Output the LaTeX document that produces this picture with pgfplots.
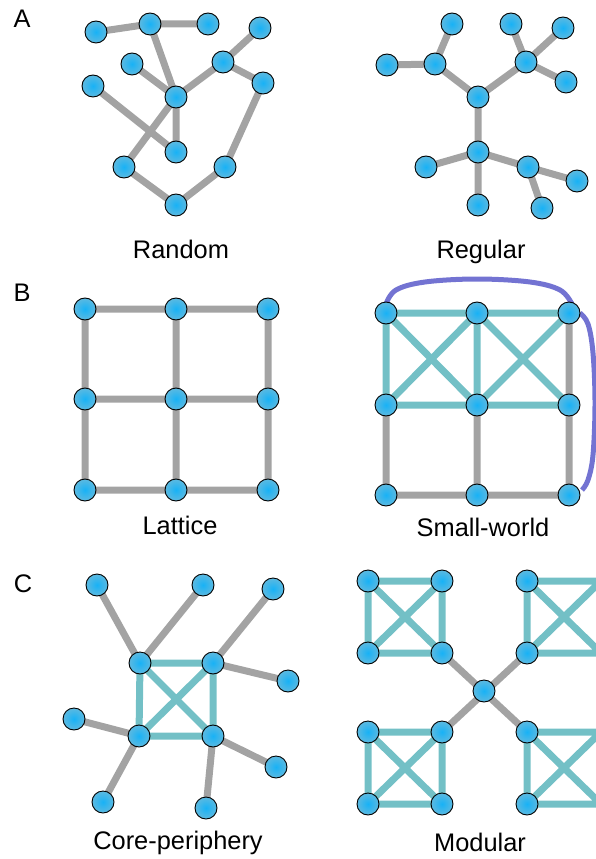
\documentclass[border=0pt]{standalone}
\usepackage{fontspec}
\setmainfont{Liberation Sans}
\usepackage{pgfplots}
\pgfplotsset{compat=1.18}
\usepackage{pgfplotstable}

\definecolor{edgegray}{HTML}{A3A3A3}
\definecolor{edgeteal}{HTML}{73C0C6}
\definecolor{edgeblue}{HTML}{7373D2}
\definecolor{nodein}{HTML}{18B2F6}
\definecolor{nodeout}{HTML}{5CB9E0}

% shaded node mark with black rim
\pgfdeclareradialshading{nodeshade}{\pgfpoint{0bp}{0bp}}{%
  color(0bp)=(nodein); color(25bp)=(nodeout); color(50bp)=(nodeout)}
\pgfdeclareplotmark{node}{%
  \pgfpathcircle{\pgfpointorigin}{\pgfplotmarksize}%
  \pgfshadepath{nodeshade}{0}%
  \pgfusepath{stroke}%
}

\newcommand\lab{\fontsize{25.5}{30}\selectfont}

% ---- node positions (pixels, y downwards)
\pgfplotstableread{
x y
96 32
150 24
208 24
260 28
132 64
223 62
93 86
263 83
176 97
176 152
124 167
225 167
176 205
}\randomnodes

\pgfplotstableread{
x y
452 24
511 24
563 28
387 65
435 64
526 62
566 82
478 97
478 152
426 167
528 167
577 181
478 205
542 208
}\regularnodes

\pgfplotstableread{
x y
85 309
176 309
268 309
85 399
176 399
268 399
85 490
176 490
268 490
}\latticenodes

\pgfplotstableread{
x y
386 313
477 313
569 313
386 405
477 405
569 405
386 495
477 495
569 495
}\swnodes

\pgfplotstableread{
x y
140 663
213 663
139 736
213 736
97 585
203 585
273 589
288 681
74 719
103 802
206 808
276 767
}\cpnodes

\pgfplotstableread{
x y
368 581
442 581
368 653
442 653
527 581
601 581
527 653
601 653
368 732
442 732
368 804
442 804
527 732
601 732
527 804
601 804
484 691
}\modnodes

\begin{document}
\begin{tikzpicture}
\begin{axis}[
    scale only axis,
    width=596bp, height=859bp,
    xmin=0, xmax=596, ymin=0, ymax=859,
    y dir=reverse,
    hide axis,
    clip=true,
    clip marker paths=true,
    unbounded coords=jump,
    every axis plot/.append style={line join=round},
]
% ---- gray edges
\addplot[edgegray, line width=7bp, no marks] coordinates {
  (96,32)(150,24)(208,24) (nan,nan)
  (150,24)(176,97)(176,152) (nan,nan)
  (132,64)(176,97)(223,62)(260,28) (nan,nan)
  (223,62)(263,83)(225,167)(176,205)(124,167)(176,97) (nan,nan)
  (93,86)(176,152) (nan,nan)
  (452,24)(435,64)(387,65) (nan,nan)
  (435,64)(478,97)(526,62)(511,24) (nan,nan)
  (526,62)(563,28) (nan,nan)
  (526,62)(566,82) (nan,nan)
  (478,97)(478,205) (nan,nan)
  (426,167)(478,152)(528,167)(577,181) (nan,nan)
  (528,167)(542,208) (nan,nan)
  (85,309)(268,309) (nan,nan)
  (85,399)(268,399) (nan,nan)
  (85,490)(268,490) (nan,nan)
  (85,309)(85,490) (nan,nan)
  (176,309)(176,490) (nan,nan)
  (268,309)(268,490) (nan,nan)
  (386,405)(386,495)(569,495)(569,313) (nan,nan)
  (477,405)(477,495) (nan,nan)
  (97,585)(140,663)(203,585) (nan,nan)
  (273,589)(213,663)(288,681) (nan,nan)
  (74,719)(139,736)(103,802) (nan,nan)
  (206,808)(213,736)(276,767) (nan,nan)
  (442,653)(527,732) (nan,nan)
  (527,653)(442,732)
};
% ---- teal edges
\addplot[edgeteal, line width=7bp, no marks] coordinates {
  (386,313)(569,313) (nan,nan)
  (386,405)(569,405) (nan,nan)
  (386,313)(386,405) (nan,nan)
  (477,313)(477,405) (nan,nan)
  (386,313)(477,405)(569,313) (nan,nan)
  (386,405)(477,313)(569,405) (nan,nan)
  (140,663)(213,663)(213,736)(139,736)(140,663)(213,736) (nan,nan)
  (213,663)(139,736) (nan,nan)
  (368,581)(442,581)(442,653)(368,653)(368,581)(442,653) (nan,nan)
  (442,581)(368,653) (nan,nan)
  (527,581)(601,581)(601,653)(527,653)(527,581)(601,653) (nan,nan)
  (601,581)(527,653) (nan,nan)
  (368,732)(442,732)(442,804)(368,804)(368,732)(442,804) (nan,nan)
  (442,732)(368,804) (nan,nan)
  (527,732)(601,732)(601,804)(527,804)(527,732)(601,804) (nan,nan)
  (601,732)(527,804)
};
% ---- long-range shortcuts of the small-world graph
\addplot[edgeblue, line width=5bp, no marks, smooth, tension=0.6] coordinates {
  (386,304)(396,290)(425,282)(477,279)(530,282)(560,290)(572,304)
};
\addplot[edgeblue, line width=5bp, no marks, smooth, tension=0.6] coordinates {
  (580,313)(588,324)(593,353)(595,403)(593,455)(588,480)(582,490)
};
% ---- nodes
\pgfplotsset{nodestyle/.style={only marks, mark=node, mark size=11bp,
    mark options={draw=black, line width=0.9bp, solid}}}
\addplot[nodestyle] table {\randomnodes};
\addplot[nodestyle] table {\regularnodes};
\addplot[nodestyle] table {\latticenodes};
\addplot[nodestyle] table {\swnodes};
\addplot[nodestyle] table {\cpnodes};
\addplot[nodestyle] table {\modnodes};
% ---- labels
\node[anchor=base, font=\lab] at (axis cs:22,28) {A};
\node[anchor=base, font=\lab] at (axis cs:22,301) {B};
\node[anchor=base, font=\lab] at (axis cs:23,592) {C};
\node[anchor=base, font=\lab] at (axis cs:181,258) {Random};
\node[anchor=base, font=\lab] at (axis cs:481,258) {Regular};
\node[anchor=base, font=\lab] at (axis cs:180,534) {Lattice};
\node[anchor=base, font=\lab] at (axis cs:483,536) {Small-world};
\node[anchor=base, font=\lab] at (axis cs:178,849) {Core-periphery};
\node[anchor=base, font=\lab] at (axis cs:480,851) {Modular};
\coordinate (bbA) at (rel axis cs:0,0);
\coordinate (bbB) at (rel axis cs:1,1);
\end{axis}
\pgfresetboundingbox
\useasboundingbox (bbA) rectangle (bbB);
\end{tikzpicture}
\end{document}
